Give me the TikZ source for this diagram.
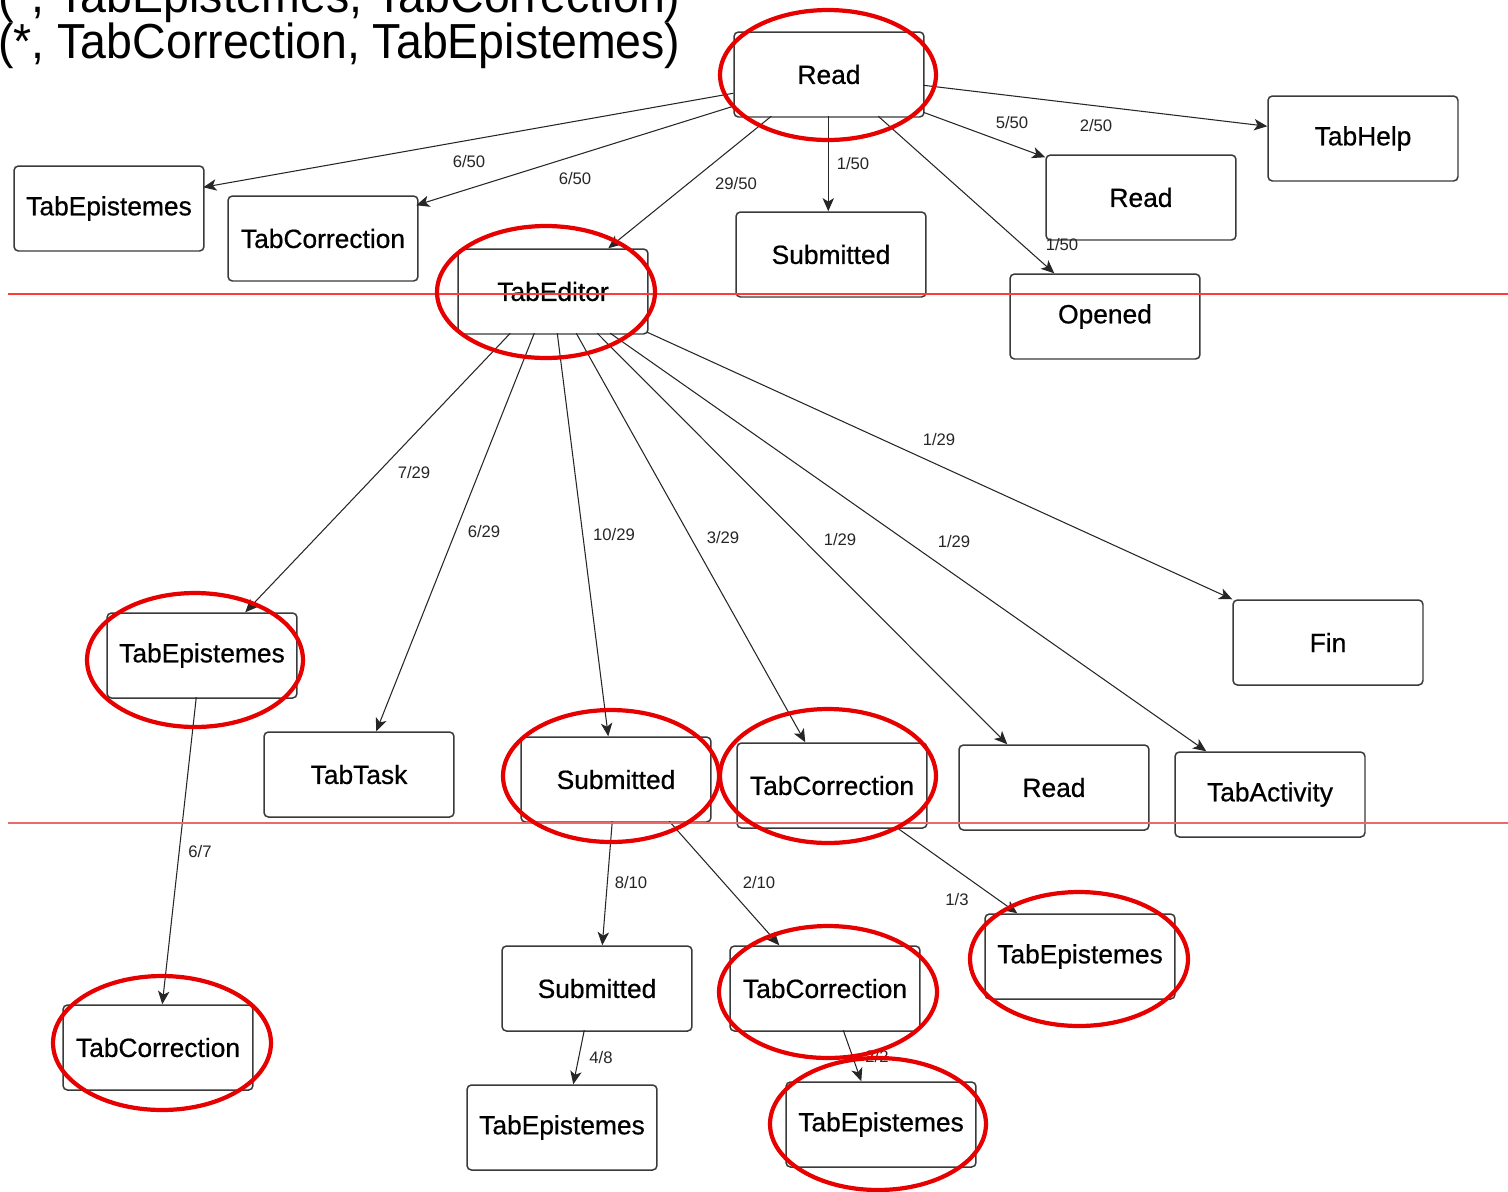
\documentclass[tikz,border=0pt]{standalone}
\usepackage{fontspec}
\setmainfont{Liberation Sans}
\newfontfamily\statefont{Liberation Sans}[FakeBold=0.6]
\usetikzlibrary{calc,arrows.meta}
\definecolor{boxline}{HTML}{3A3A3A}
\definecolor{mark}{HTML}{E60000}
\definecolor{rule1}{HTML}{FF3B3B}
\definecolor{rule2}{HTML}{E86A6A}
\tikzset{
  state/.style={draw=boxline, line width=0.85pt, rounded corners=2.5pt, fill=white,
    minimum width=3.8cm, minimum height=1.7cm, inner sep=0pt,
    font=\statefont\fontsize{15}{18}\selectfont},
  arr/.style={draw=black!85, line width=0.6pt,
    -{Stealth[length=7.5pt,width=6.5pt,inset=2pt]}},
  prob/.style={font=\fontsize{9.5}{11}\selectfont, inner sep=1pt, text=black!85},
  ring/.style={draw=mark, line width=2.4pt},
  head/.style={font=\fontsize{28}{32}\selectfont, xscale=0.945, inner sep=0pt, anchor=base west}
}
\begin{document}
\begin{tikzpicture}[x=0.02cm, y=-0.02cm]
\useasboundingbox (0,0) rectangle (1508,1191);
\clip (0,0) rectangle (1508,1191);

% heading lines
\node[head] (hd1) at (-2,12) {(*, TabEpistemes, TabCorrection)};
\node[head] (hd2) at (-2,58) {(*, TabCorrection, TabEpistemes)};

% states (placed by centre)
\node[state] (rd)   at (829,74.5)   {Read};
\node[state] (help) at (1363,138.5) {TabHelp};
\node[state] (rd2)  at (1141,197.5) {Read};
\node[state] (ep1)  at (109,208.5)  {TabEpistemes};
\node[state] (co1)  at (323,238.5)  {TabCorrection};
\node[state] (sub1) at (831,254.5)  {Submitted};
\node[state] (ted)  at (553,291.5)  {TabEditor};
\node[state] (op)   at (1105,316.5) {Opened};
\node[state] (ep2)  at (202,655.5)  {TabEpistemes};
\node[state] (fin)  at (1328,642.5) {Fin};
\node[state] (task) at (359,774.5)  {TabTask};
\node[state] (sub2) at (616,779.5)  {Submitted};
\node[state] (co2)  at (832,785.5)  {TabCorrection};
\node[state] (rd3)  at (1054,787.5) {Read};
\node[state] (act)  at (1270,794.5) {TabActivity};
\node[state] (ep3)  at (1080,956.5) {TabEpistemes};
\node[state] (sub3) at (597,988.5)  {Submitted};
\node[state] (co3)  at (825,988.5)  {TabCorrection};
\node[state] (co4)  at (158,1047.5) {TabCorrection};
\node[state] (ep4)  at (562,1127.5) {TabEpistemes};
\node[state] (ep5)  at (881,1124.5) {TabEpistemes};

% transitions out of the first Read
\draw[arr] ($(rd.north west)+(0,62)$)   -- ($(ep1.north west)+(190,22)$);
\draw[arr] ($(rd.north west)+(0,75)$)   -- ($(co1.north west)+(189,10)$);
\draw[arr] ($(rd.north west)+(38,85)$)  -- ($(ted.north west)+(151,0)$);
\draw[arr] ($(rd.north west)+(95,85)$)  -- ($(sub1.north west)+(93,0)$);
\draw[arr] ($(rd.north west)+(145,85)$) -- ($(op.north west)+(45,0)$);
\draw[arr] ($(rd.north west)+(190,81)$) -- ($(rd2.north west)+(0,3)$);
\draw[arr] ($(rd.north west)+(190,54)$) -- ($(help.north west)+(0,31)$);

% transitions out of TabEditor
\draw[arr] ($(ted.north west)+(53,85)$)  -- ($(ep2.north west)+(139,0)$);
\draw[arr] ($(ted.north west)+(77,85)$)  -- ($(task.north west)+(113,0)$);
\draw[arr] ($(ted.north west)+(100,85)$) -- ($(sub2.north west)+(88,0)$);
\draw[arr] ($(ted.north west)+(119,85)$) -- ($(co2.north west)+(69,0)$);
\draw[arr] ($(ted.north west)+(140,85)$) -- ($(rd3.north west)+(49,0)$);
\draw[arr] ($(ted.north west)+(153,85)$) -- ($(act.north west)+(32,0)$);
\draw[arr] ($(ted.north west)+(190,84)$) -- ($(fin.north west)+(0,0)$);

% third level
\draw[arr] ($(ep2.north west)+(90,85)$)   -- ($(co4.north west)+(100,0)$);
\draw[arr] ($(sub2.north west)+(92,85)$)  -- ($(sub3.north west)+(101,0)$);
\draw[arr] ($(sub2.north west)+(149,85)$) -- ($(co3.north west)+(50,0)$);
\draw[arr] ($(co2.north west)+(160,85)$)  -- ($(ep3.north west)+(33,0)$);
\draw[arr] ($(sub3.north west)+(83,85)$)  -- ($(ep4.north west)+(107,0)$);
\draw[arr] ($(co3.north west)+(114,85)$)  -- ($(ep5.north west)+(76,0)$);

% transition counts
\node[prob] (p1)  at (469,162)  {6/50};
\node[prob] (p2)  at (575,179)  {6/50};
\node[prob] (p3)  at (736,184)  {29/50};
\node[prob] (p4)  at (853,164)  {1/50};
\node[prob] (p5)  at (1062,245) {1/50};
\node[prob] (p6)  at (1012,123) {5/50};
\node[prob] (p7)  at (1096,126) {2/50};
\node[prob] (p8)  at (414,473)  {7/29};
\node[prob] (p9)  at (484,532)  {6/29};
\node[prob] (p10) at (614,535)  {10/29};
\node[prob] (p11) at (723,538)  {3/29};
\node[prob] (p12) at (840,540)  {1/29};
\node[prob] (p13) at (954,542)  {1/29};
\node[prob] (p14) at (939,440)  {1/29};
\node[prob] (p15) at (200,852)  {6/7};
\node[prob] (p16) at (631,883)  {8/10};
\node[prob] (p17) at (759,883)  {2/10};
\node[prob] (p18) at (957,900)  {1/3};
\node[prob] (p19) at (601,1058) {4/8};
\node[prob] (p20) at (877,1057) {2/2};

% level separators
\draw[rule1, line width=0.6pt] (8,294) -- (1508,294);
\draw[rule2, line width=0.6pt] (8,823) -- (1508,823);

% highlighted states
\draw[ring] (828,75)    ellipse [x radius=2.16cm, y radius=1.30cm];
\draw[ring] (546,292)   ellipse [x radius=2.18cm, y radius=1.32cm];
\draw[ring] (195,660)   ellipse [x radius=2.16cm, y radius=1.34cm];
\draw[ring] (611,776)   ellipse [x radius=2.16cm, y radius=1.32cm];
\draw[ring] (828,776)   ellipse [x radius=2.16cm, y radius=1.34cm];
\draw[ring] (1079,959)  ellipse [x radius=2.18cm, y radius=1.34cm];
\draw[ring] (162,1043)  ellipse [x radius=2.18cm, y radius=1.34cm];
\draw[ring] (828,992)   ellipse [x radius=2.18cm, y radius=1.32cm];
\draw[ring] (878,1124)  ellipse [x radius=2.16cm, y radius=1.32cm];
\end{tikzpicture}
\end{document}
